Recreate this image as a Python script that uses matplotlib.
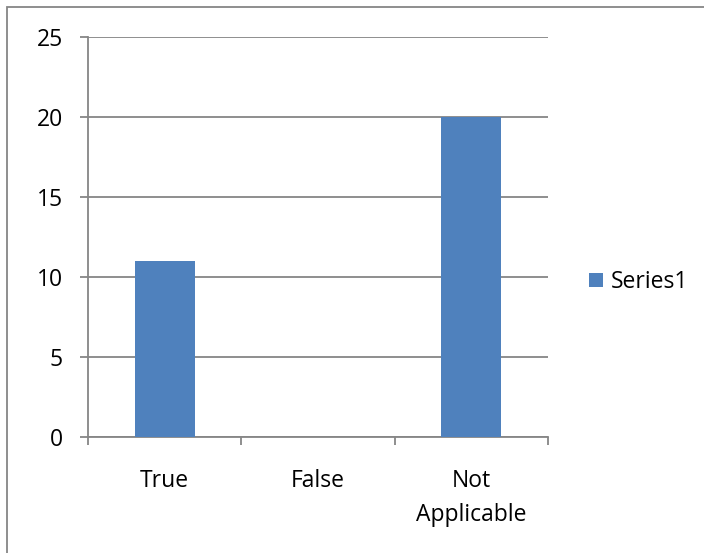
import matplotlib
matplotlib.use("Agg")
import matplotlib.pyplot as plt
from matplotlib.patches import Rectangle

categories = ["True", "False", "Not\nApplicable"]
values = [11, 0, 20]
series_name = "Series1"
yticks = [0, 5, 10, 15, 20, 25]

plt.rcParams['font.family'] = ['Open Sans', 'DejaVu Sans']

W, H = 704, 553
fs = 16.5
fig = plt.figure(figsize=(W/100, H/100), dpi=100)
ax = fig.add_axes([88/W, (H-437)/H, (548-88)/W, (437-37)/H])

gray = "#868686"
blue = "#4F81BD"

ax.bar(range(len(categories)), values, width=0.39, color=blue, zorder=3, label=series_name)
ax.set_xlim(-0.5, len(categories)-0.5)
ax.set_ylim(0, 25)
ax.set_yticks(yticks)
ax.yaxis.grid(True, color=gray, linewidth=1.3, zorder=0)
ax.set_axisbelow(True)

for s in ["top", "right"]:
    ax.spines[s].set_visible(False)
for s in ["left", "bottom"]:
    ax.spines[s].set_color(gray)
    ax.spines[s].set_linewidth(1.3)

ax.set_xticks(range(len(categories)))
ax.set_xticklabels(categories, fontsize=fs, linespacing=1.55, va='top')
ax.set_xticks([i - 0.5 for i in range(len(categories)+1)], minor=True)
ax.tick_params(axis='x', which='major', length=0, pad=23)
ax.tick_params(axis='x', which='minor', length=6, width=1.3, color=gray, direction='out')
ax.tick_params(axis='y', length=6, width=1.3, color=gray, direction='out', pad=12, labelsize=fs)

fig.legend(loc='center left', bbox_to_anchor=(589/W, (H-282)/H), frameon=False,
           handlelength=0.6, handleheight=0.6, handletextpad=0.35, fontsize=fs,
           borderaxespad=0, borderpad=0)

fig.patches.append(Rectangle((7/W, -0.05), 1.1, (H-7)/H + 0.05, transform=fig.transFigure,
                             fill=False, edgecolor=gray, linewidth=1.3))

fig.savefig("out.png", dpi=100)
